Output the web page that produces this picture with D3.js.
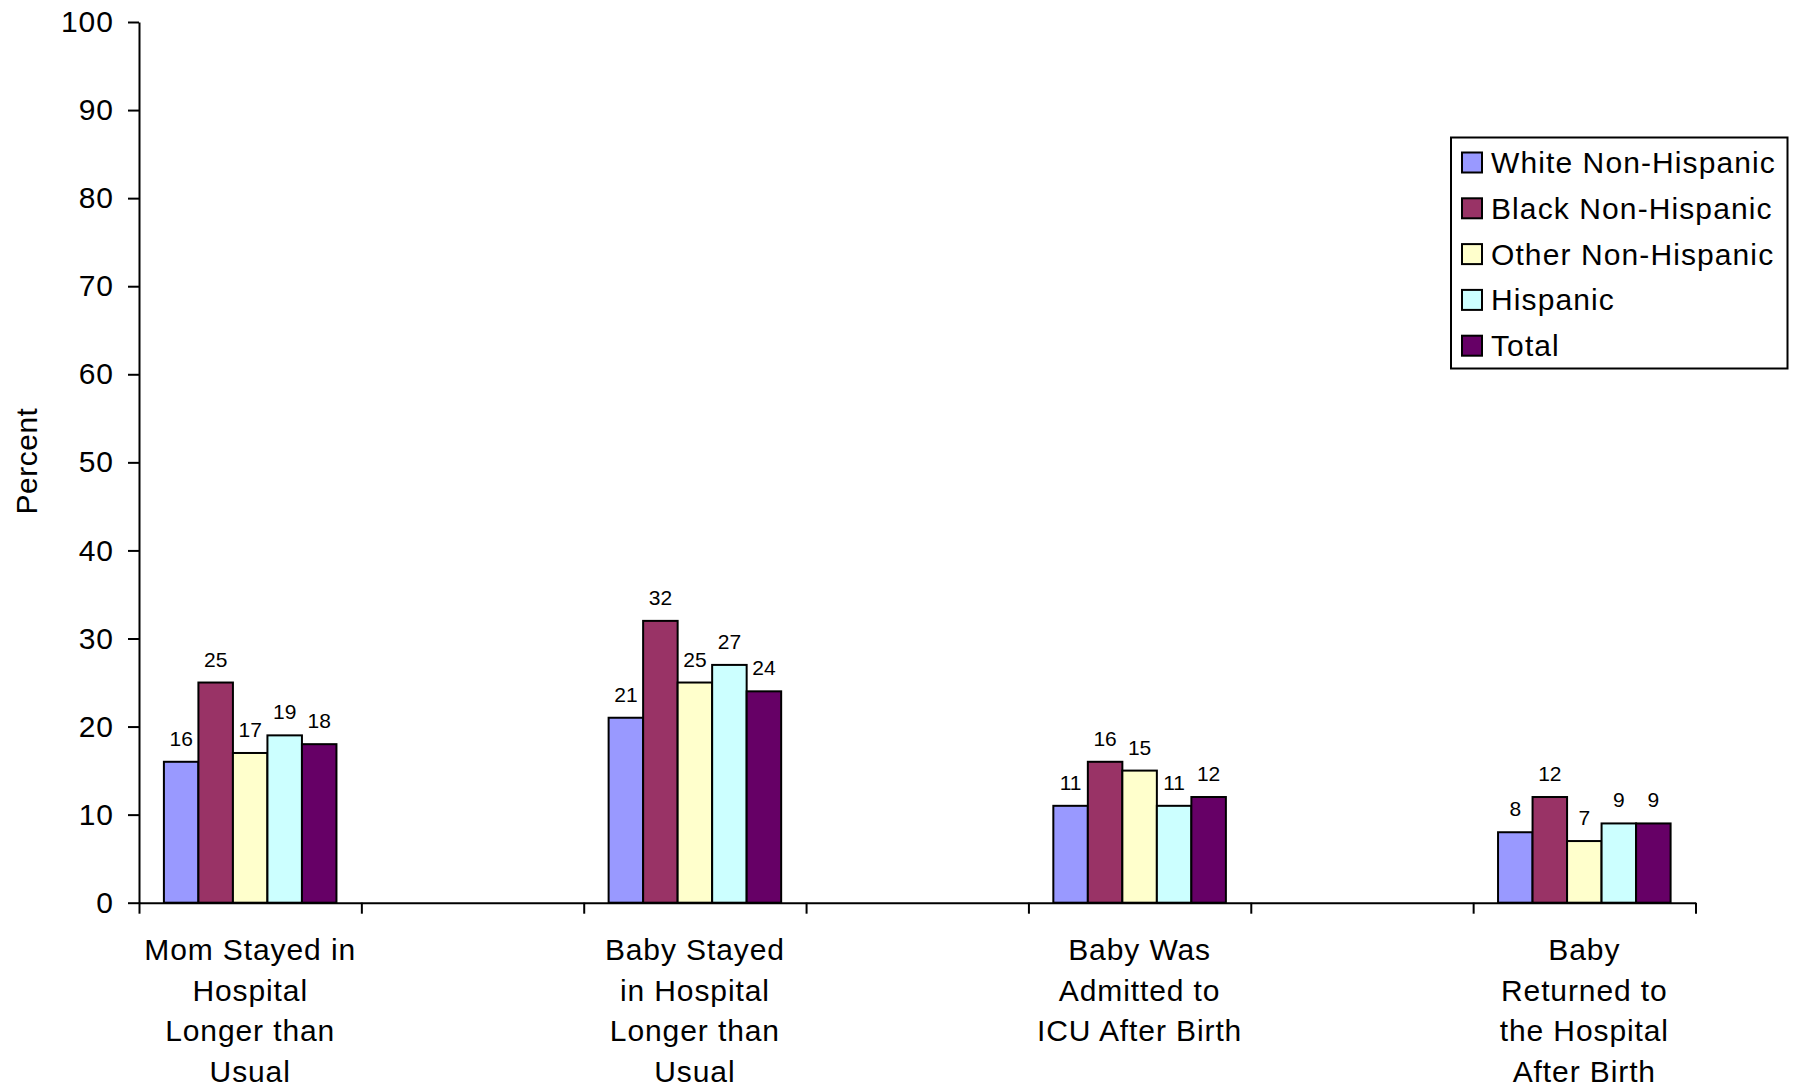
<!DOCTYPE html>
<html>
<head>
<meta charset="utf-8">
<script src="https://cdn.jsdelivr.net/npm/d3@7"></script>
<style>
  html, body { margin: 0; padding: 0; background: #fff; }
  svg { display: block; font-family: "Liberation Sans", Arial, sans-serif; }
</style>
</head>
<body>
<svg id="chart" width="1797" height="1087"></svg>
<script>
const categories = [
  ["Mom Stayed in", "Hospital", "Longer than", "Usual"],
  ["Baby Stayed", "in Hospital", "Longer than", "Usual"],
  ["Baby Was", "Admitted to", "ICU After Birth"],
  ["Baby", "Returned to", "the Hospital", "After Birth"]
];
const seriesNames = ["White Non-Hispanic", "Black Non-Hispanic", "Other Non-Hispanic", "Hispanic", "Total"];
const seriesColors = ["#9999FF", "#993366", "#FFFFCC", "#CCFFFF", "#660066"];
const whiteNH = [16, 21, 11, 8];
const blackNH = [25, 32, 16, 12];
const otherNH = [17, 25, 15, 7];
const hispanic = [19, 27, 11, 9];
const total = [18, 24, 12, 9];
const yTicks = [0, 10, 20, 30, 40, 50, 60, 70, 80, 90, 100];
const yTitle = "Percent";

const seriesValues = [whiteNH, blackNH, otherNH, hispanic, total];
const FONT = "'Liberation Sans', Arial, sans-serif";

const svg = d3.select("#chart");
const x0 = 139, x1 = 1695.5, yBottom = 902.7, yTop = 22;

// category axis spans 3.5 category widths; each category occupies two tick intervals
const xUnits = d3.scaleLinear().domain([0, 7]).range([x0, x1]);
const catCenter = i => xUnits(0.5 + 2 * i);
const unitW = xUnits(1) - xUnits(0);
const groupW = unitW * 0.776;
const xInner = d3.scaleBand().domain(d3.range(seriesNames.length)).range([-groupW / 2, groupW / 2]).padding(0);

const y = d3.scaleLinear().domain([0, 100]).range([yBottom, yTop]);

// bars
const groups = svg.append("g").selectAll("g")
  .data(categories)
  .join("g")
  .attr("transform", (d, i) => `translate(${catCenter(i)},0)`);

groups.each(function (cat, ci) {
  const g = d3.select(this);
  seriesValues.forEach((vals, si) => {
    const v = vals[ci];
    g.append("rect")
      .attr("x", xInner(si))
      .attr("y", y(v))
      .attr("width", xInner.bandwidth())
      .attr("height", y(0) - y(v))
      .attr("fill", seriesColors[si])
      .attr("stroke", "#000")
      .attr("stroke-width", 2);
    g.append("text")
      .attr("x", xInner(si) + xInner.bandwidth() / 2)
      .attr("y", y(v) - 16)
      .attr("text-anchor", "middle")
      .attr("font-size", 21)
      .attr("fill", "#000")
      .text(v);
  });
});

// y axis
const yAxis = d3.axisLeft(y).tickValues(yTicks).tickSize(11).tickPadding(14).tickSizeOuter(0);
const gy = svg.append("g").attr("transform", `translate(${x0},0)`).call(yAxis);
gy.select(".domain").attr("stroke", "#000").attr("stroke-width", 2);
gy.selectAll(".tick line").attr("stroke", "#000").attr("stroke-width", 2);
gy.selectAll(".tick text").attr("font-size", 30).attr("font-family", FONT).attr("fill", "#000")
  .attr("letter-spacing", "1px");

// x axis
const xAxis = d3.axisBottom(xUnits).tickValues(d3.range(0, 8)).tickSize(11).tickFormat("").tickSizeOuter(0);
const gx = svg.append("g").attr("transform", `translate(0,${yBottom})`).call(xAxis);
gx.select(".domain").attr("stroke", "#000").attr("stroke-width", 2);
gx.selectAll(".tick line").attr("stroke", "#000").attr("stroke-width", 2);

// category labels
categories.forEach((lines, i) => {
  const t = svg.append("text")
    .attr("text-anchor", "middle")
    .attr("font-size", 30)
    .attr("letter-spacing", "0.9px")
    .attr("fill", "#000");
  lines.forEach((ln, li) => {
    t.append("tspan").attr("x", catCenter(i)).attr("y", 960 + li * 40.5).text(ln);
  });
});

// y title
svg.append("text")
  .attr("transform", `translate(37,461) rotate(-90)`)
  .attr("text-anchor", "middle")
  .attr("font-size", 30)
  .attr("letter-spacing", "0.5px")
  .attr("fill", "#000")
  .text(yTitle);

// legend
const lg = svg.append("g");
lg.append("rect")
  .attr("x", 1451).attr("y", 137.5)
  .attr("width", 336.5).attr("height", 231)
  .attr("fill", "#fff").attr("stroke", "#000").attr("stroke-width", 2);
seriesNames.forEach((name, i) => {
  const cy = 162.5 + i * 45.8;
  lg.append("rect")
    .attr("x", 1462).attr("y", cy - 10)
    .attr("width", 20).attr("height", 20)
    .attr("fill", seriesColors[i]).attr("stroke", "#000").attr("stroke-width", 2);
  lg.append("text")
    .attr("x", 1491).attr("y", cy + 10.5)
    .attr("font-size", 30)
    .attr("letter-spacing", "1.1px")
    .attr("fill", "#000")
    .text(name);
});
</script>
</body>
</html>
